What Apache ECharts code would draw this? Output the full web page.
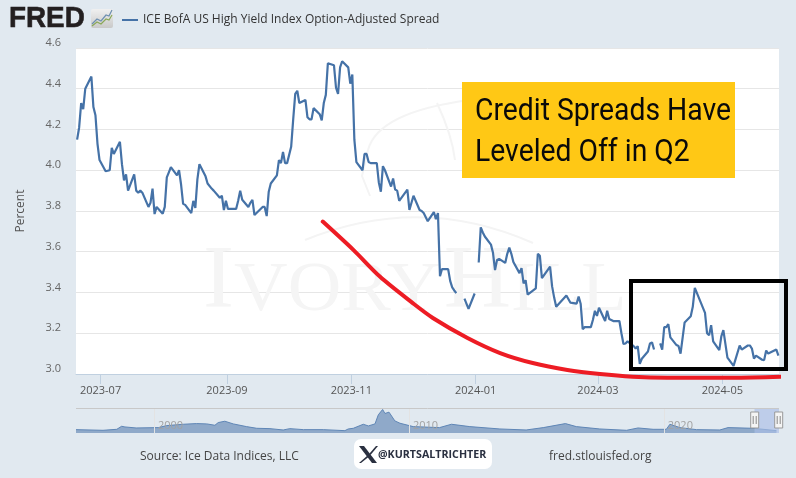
<!DOCTYPE html>
<html><head><meta charset="utf-8">
<style>html,body{margin:0;padding:0;background:#e1e9f0}#c{width:796px;height:478px}</style>
<script src="https://cdn.jsdelivr.net/npm/echarts@6/dist/echarts.min.js"></script>
</head><body><div id="c"></div>
<script>
const seriesName='ICE BofA US High Yield Index Option-Adjusted Spread';
const tickMonths=['2023-07-01','2023-09-01','2023-11-01','2024-01-01','2024-03-01','2024-05-01'];
const hyDates=['2023-06-19','2023-06-20','2023-06-21','2023-06-22','2023-06-23','2023-06-26','2023-06-27','2023-06-28','2023-06-29','2023-06-30',
'2023-07-03','2023-07-05','2023-07-06','2023-07-07','2023-07-10','2023-07-11','2023-07-12','2023-07-13','2023-07-14','2023-07-17','2023-07-18','2023-07-19','2023-07-20','2023-07-21','2023-07-24','2023-07-25','2023-07-26','2023-07-27','2023-07-28','2023-07-31',
'2023-08-01','2023-08-02','2023-08-03','2023-08-04','2023-08-07','2023-08-08','2023-08-09','2023-08-10','2023-08-11','2023-08-14','2023-08-15','2023-08-16','2023-08-17','2023-08-18','2023-08-21','2023-08-22','2023-08-24','2023-08-25','2023-08-28','2023-08-29','2023-08-30','2023-08-31',
'2023-09-01','2023-09-05','2023-09-06','2023-09-07','2023-09-08','2023-09-11','2023-09-12','2023-09-13','2023-09-14','2023-09-18','2023-09-19','2023-09-20','2023-09-21','2023-09-22','2023-09-25','2023-09-26','2023-09-27','2023-09-28','2023-09-29','2023-09-30',
'2023-10-02','2023-10-03','2023-10-04','2023-10-05','2023-10-06','2023-10-09','2023-10-10','2023-10-11','2023-10-12','2023-10-13','2023-10-16','2023-10-17','2023-10-18','2023-10-19','2023-10-20','2023-10-23','2023-10-24','2023-10-25','2023-10-26','2023-10-27','2023-10-30','2023-10-31',
'2023-11-01','2023-11-02','2023-11-03','2023-11-06','2023-11-07','2023-11-08','2023-11-09','2023-11-10','2023-11-13','2023-11-14','2023-11-15','2023-11-16','2023-11-17','2023-11-20','2023-11-21','2023-11-22','2023-11-23','2023-11-24','2023-11-28','2023-11-29',
'2023-12-01','2023-12-04','2023-12-05','2023-12-06','2023-12-08','2023-12-11','2023-12-12','2023-12-13','2023-12-14','2023-12-15','2023-12-18','2023-12-19','2023-12-20','2023-12-21','2023-12-22','2023-12-24','2023-12-26','2023-12-28','2023-12-31','2024-01-01',
'2024-01-02','2024-01-03','2024-01-04','2024-01-05','2024-01-08','2024-01-09','2024-01-10','2024-01-11','2024-01-12','2024-01-15','2024-01-16','2024-01-17','2024-01-18','2024-01-19','2024-01-22','2024-01-23','2024-01-24','2024-01-25','2024-01-26','2024-01-30','2024-01-31',
'2024-02-01','2024-02-02','2024-02-06','2024-02-07','2024-02-08','2024-02-09','2024-02-14','2024-02-16','2024-02-19','2024-02-20','2024-02-21','2024-02-22','2024-02-23','2024-02-26','2024-02-27','2024-02-28','2024-02-29',
'2024-03-01','2024-03-04','2024-03-05','2024-03-06','2024-03-07','2024-03-08','2024-03-11','2024-03-12','2024-03-13','2024-03-14','2024-03-15','2024-03-18','2024-03-19','2024-03-20','2024-03-21','2024-03-22','2024-03-25','2024-03-26','2024-03-27','2024-03-28','2024-03-30','2024-03-31',
'2024-04-01','2024-04-02','2024-04-03','2024-04-04','2024-04-05','2024-04-08','2024-04-09','2024-04-10','2024-04-12','2024-04-15','2024-04-16','2024-04-17','2024-04-22','2024-04-23','2024-04-24','2024-04-25','2024-04-26','2024-04-29','2024-04-30',
'2024-05-01','2024-05-03','2024-05-06','2024-05-09','2024-05-10','2024-05-13','2024-05-14','2024-05-15','2024-05-16','2024-05-17','2024-05-20','2024-05-21','2024-05-22','2024-05-23','2024-05-24','2024-05-27','2024-05-28'];
const hyValues=[4.15,4.21,4.33,4.30,4.40,4.46,4.31,4.27,4.13,4.05,
3.995,4.0,4.11,4.08,4.14,4.03,3.95,3.98,3.90,3.98,3.90,3.89,3.90,3.89,3.82,3.84,3.91,3.785,3.82,3.787,
3.82,3.965,3.99,4.015,3.975,4.0,3.93,3.835,3.83,3.79,3.85,3.815,3.955,4.03,3.97,3.935,3.91,3.90,3.865,3.875,3.805,3.85,
3.81,3.81,3.85,3.90,3.855,3.82,3.84,3.855,3.78,3.82,3.82,3.775,3.895,3.935,3.975,4.05,4.035,4.09,4.035,4.035,
4.115,4.25,4.375,4.39,4.33,4.345,4.26,4.25,4.25,4.305,4.275,4.245,4.33,4.37,4.525,4.515,4.405,4.375,4.505,4.535,4.505,4.425,
4.47,4.15,4.04,4.0,4.08,4.08,4.04,4.035,4.035,3.94,3.895,4.02,4.0,3.92,3.96,3.905,3.90,3.85,3.905,3.805,
3.875,3.805,3.80,3.79,3.75,3.795,3.76,3.79,3.48,3.515,3.515,3.457,3.425,3.41,3.397,null,3.37,3.32,3.395,null,
3.547,3.72,3.695,3.675,3.635,3.595,3.51,3.56,3.565,3.545,3.59,3.62,3.59,3.55,3.495,3.52,3.445,3.46,3.39,3.42,3.59,
3.58,3.47,3.527,3.43,3.375,3.33,3.385,3.35,3.345,3.38,3.345,3.22,3.23,3.23,3.265,3.31,3.285,
3.325,3.26,3.31,3.27,3.265,3.26,3.26,3.20,3.147,3.15,3.16,3.137,3.125,3.137,3.05,3.075,3.11,3.15,3.155,3.12,null,3.15,
3.12,3.23,3.23,3.245,3.18,3.142,3.137,3.10,3.253,3.283,3.33,3.423,3.30,3.20,3.19,3.24,3.16,3.117,3.185,
3.215,3.08,3.04,3.14,3.12,3.14,3.14,3.125,3.076,3.09,3.07,3.068,3.115,3.10,3.105,3.12,3.09];
const curveDates=['2023-10-18','2023-11-02','2023-11-15','2023-12-01','2023-12-11','2023-12-28','2024-01-13','2024-01-29','2024-02-15','2024-03-02','2024-03-18','2024-04-04','2024-05-06','2024-05-31'];
const curveValues=[3.748,3.609,3.478,3.349,3.275,3.177,3.103,3.054,3.02,3.0,2.987,2.982,2.982,2.987];
const navYears=[1996.94,1998.0,1998.54,1998.73,1998.86,1999.3,2000.17,2000.5,2001.15,2001.67,2001.74,2002.07,2002.39,2002.52,2002.78,2003.11,2003.63,2004.03,2004.55,2005.07,2005.33,2005.86,2006.64,2007.49,2007.62,2007.82,2008.21,2008.41,2008.67,2008.8,2008.97,2009.06,2009.22,2009.45,2009.65,2010.17,2011.2,2011.67,2012.39,2013.57,2014.6,2015.27,2016.14,2016.57,2017.49,2018.54,2018.99,2019.58,2020.1,2020.24,2020.63,2021.28,2022.2,2022.52,2023.5,2024.42];
const navValues=[3.7,3.1,4.0,6.7,6.1,5.2,5.5,7.3,8.5,9.1,10.3,8.8,7.6,10.0,11.2,8.8,6.4,4.9,4.6,3.4,4.6,3.7,3.7,2.8,4.3,4.9,8.5,7.0,8.8,16.9,21.7,18.1,19.3,11.5,9.4,6.4,5.5,8.5,6.4,4.3,3.4,5.5,9.1,6.4,4.3,3.1,5.2,4.0,4.0,8.5,5.5,3.7,3.4,5.5,4.9,2.8];
const navTicks=[2000,2010,2020];

const ms=d=>Date.parse(d+'T00:00:00Z');
const halfDay=43200000;
const font='"Open Sans"';
const chart=echarts.init(document.getElementById('c'),null,{renderer:'canvas'});
const handle=(x)=>[
 {type:'rect',z:32,shape:{x:x-4,y:412,width:8,height:16},style:{fill:'#f4f4f4',stroke:'#999',lineWidth:1}},
 {type:'line',z:33,shape:{x1:x-1.5,y1:416,x2:x-1.5,y2:424},style:{stroke:'#888',lineWidth:1}},
 {type:'line',z:33,shape:{x1:x+1.5,y1:416,x2:x+1.5,y2:424},style:{stroke:'#888',lineWidth:1}}
];
const faint={fill:null,stroke:'#f4f4f4',lineWidth:2};
const wmBig={fontFamily:'"Liberation Serif"',fontSize:88,fill:'#f5f5f5',verticalAlign:'bottom'};
const wmSmall={fontFamily:'"Liberation Serif"',fontSize:70,fill:'#f5f5f5',verticalAlign:'bottom'};
chart.setOption({
 animation:false,
 backgroundColor:'#e1e9f0',
 textStyle:{fontFamily:font},
 legend:{data:[{name:seriesName,icon:'rect',itemStyle:{color:'#4572a7'}}],left:117,top:9,itemWidth:16,itemHeight:2,itemGap:3,
  textStyle:{color:'#333',fontSize:12,fontFamily:font},selectedMode:false},
 grid:[
  {left:76,top:48,width:703,height:326,show:true,backgroundColor:'#fff',borderWidth:0},
  {left:76,top:408,width:703,height:25,show:false}
 ],
 xAxis:[
  {type:'value',gridIndex:0,min:ms('2023-06-18')+23*3600000,max:ms('2024-05-28')+19*3600000,
   axisLine:{show:true,lineStyle:{color:'#c0d0e0',width:1}},
   axisTick:{show:true,length:10,customValues:tickMonths.map(ms),lineStyle:{color:'#c0d0e0'}},
   axisLabel:{customValues:tickMonths.map(ms),margin:11,color:'#555',fontSize:11,fontFamily:font,hideOverlap:false,
    formatter:v=>new Date(v).toISOString().slice(0,7)},
   splitLine:{show:false}},
  {type:'value',gridIndex:1,min:1996.94,max:2024.52,z:10,
   axisLine:{show:false},axisTick:{show:true,inside:true,length:25,customValues:navTicks,lineStyle:{color:'#e3e3e3'}},
   axisLabel:{inside:true,customValues:navTicks,margin:2,color:'#a2a2a2',fontSize:11,fontFamily:font,align:'left',padding:[0,0,0,4],formatter:v=>String(v)},
   splitLine:{show:false}}
 ],
 yAxis:[
  {type:'value',gridIndex:0,min:3.0,max:4.6,interval:0.2,name:'Percent',nameLocation:'middle',nameGap:49,
   nameTextStyle:{color:'#555',fontSize:12,fontFamily:font},
   axisLine:{show:false},axisTick:{show:false},
   axisLabel:{margin:15,color:'#666',fontSize:11,fontFamily:font,verticalAlign:'bottom',lineHeight:10,
    formatter:v=>v.toFixed(1)},
   splitLine:{show:true,lineStyle:{color:'#e6e6e6',width:1}}},
  {type:'value',gridIndex:1,min:0.7,max:23,show:false,splitLine:{show:false}}
 ],
 series:[
  {name:seriesName,type:'line',xAxisIndex:0,yAxisIndex:0,z:4,showSymbol:false,symbol:'none',connectNulls:false,
   lineStyle:{color:'#4572a7',width:2.2},itemStyle:{color:'#4572a7'},
   data:hyDates.map((d,i)=>[ms(d)+halfDay,hyValues[i]])},
  {name:'Trend',type:'line',xAxisIndex:0,yAxisIndex:0,z:6,showSymbol:false,symbol:'none',smooth:0.3,clip:false,
   lineStyle:{color:'#ed1c24',width:4,cap:'round'},
   data:curveDates.map((d,i)=>[ms(d),curveValues[i]])},
  {name:'Navigator',type:'line',xAxisIndex:1,yAxisIndex:1,z:1,showSymbol:false,symbol:'none',
   lineStyle:{color:'#5f86b6',width:1},areaStyle:{color:'#8fa9c9',opacity:1,origin:'start'},
   data:navYears.map((y,i)=>[y,navValues[i]])}
 ],
 graphic:{elements:[
  {type:'text',z:1,silent:true,x:203,y:283,scaleX:1.06,style:{text:'{a|I}{b|VORY} {a|H}{b|ILL}',verticalAlign:'middle',rich:{a:wmBig,b:wmSmall}}},
  {type:'bezierCurve',z:1,silent:true,shape:{x1:305,y1:240,x2:533,y2:243,cpx1:420,cpy1:193},style:faint},
  {type:'bezierCurve',z:1,silent:true,shape:{x1:368,y1:150,x2:470,y2:100,cpx1:378,cpy1:112},style:faint},
  {type:'polyline',z:1,silent:true,shape:{points:[[370,196],[362,176],[368,150]]},style:faint},
  {type:'bezierCurve',z:1,silent:true,shape:{x1:437,y1:103,x2:455,y2:160,cpx1:452,cpy1:135},style:faint},
  {type:'text',z:30,x:9,y:19,scaleX:0.96,style:{text:'FRED',font:'bold 29px "Liberation Sans"',fill:'#231f20',stroke:'#231f20',lineWidth:0.6,verticalAlign:'middle'}},
  {type:'rect',z:30,shape:{x:91,y:9,width:22,height:19,r:2},style:{fill:new echarts.graphic.LinearGradient(0,0,0,1,[{offset:0,color:'#f0f0f0'},{offset:1,color:'#c9c9c9'}])}},
  {type:'polyline',z:31,shape:{points:[[92,24],[97,19],[101,21],[106,15],[109,16],[112,10]]},style:{stroke:'#6d8fb0',lineWidth:1.2,fill:null}},
  {type:'polyline',z:31,shape:{points:[[92,26],[97,22],[101,24],[106,19],[109,20],[112,15]]},style:{stroke:'#8aa858',lineWidth:1.2,fill:null}},
  {type:'rect',z:20,shape:{x:462,y:82,width:273,height:96},style:{fill:'#ffc815'}},
  {type:'text',z:21,x:475,y:112,scaleX:0.885,style:{text:'Credit Spreads Have',font:'32px Roboto',fill:'#0a0a0a',verticalAlign:'middle'}},
  {type:'text',z:21,x:475,y:153,scaleX:0.885,style:{text:'Leveled Off in Q2',font:'32px Roboto',fill:'#0a0a0a',verticalAlign:'middle'}},
  {type:'rect',z:20,shape:{x:631,y:281,width:155,height:88},style:{fill:null,stroke:'#000',lineWidth:4}},
  {type:'line',z:30,shape:{x1:76,y1:408.5,x2:779,y2:408.5},style:{stroke:'#c8c8c8',lineWidth:1}},
  {type:'rect',z:30,shape:{x:754.5,y:409,width:24.5,height:24},style:{fill:'rgba(170,190,230,0.65)'}},
  ...handle(754.7),...handle(778.7),
  {type:'text',z:30,x:140,y:457,style:{text:'Source: Ice Data Indices, LLC',font:'12px "Open Sans"',fill:'#444',verticalAlign:'middle'}},
  {type:'text',z:30,x:549,y:457,style:{text:'fred.stlouisfed.org',font:'12px "Open Sans"',fill:'#444',verticalAlign:'middle'}},
  {type:'rect',z:30,shape:{x:354,y:439,width:138,height:30,r:7},style:{fill:'#fff'}},
  {type:'polygon',z:31,shape:{points:[[359,446],[364,446],[377,463],[372,463]]},style:{fill:'#2a3040'}},
  {type:'polygon',z:31,shape:{points:[[376,446],[378,446],[370.5,455],[369.5,453.5]]},style:{fill:'#2a3040'}},
  {type:'polygon',z:31,shape:{points:[[367.5,455.5],[368.5,457],[361,463],[359,463]]},style:{fill:'#2a3040'}},
  {type:'text',z:31,x:378,y:455,style:{text:'@KURTSALTRICHTER',font:'bold 10.7px "Open Sans"',fill:'#2a3040',verticalAlign:'middle'}}
 ]}
});
</script></body></html>
